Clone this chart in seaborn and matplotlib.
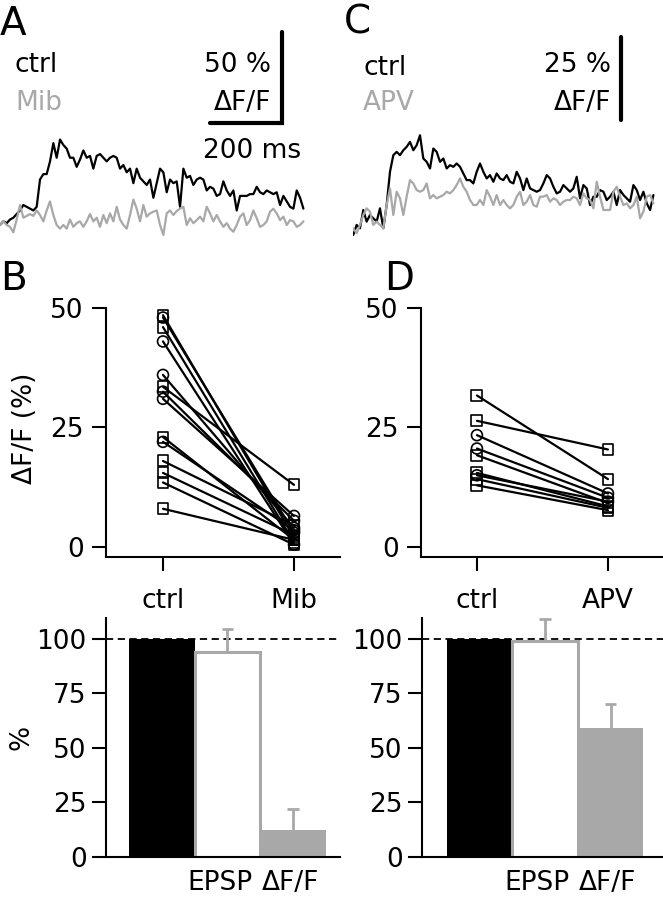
import matplotlib
matplotlib.use("Agg")
import matplotlib.pyplot as plt
import numpy as np
import pandas as pd
import seaborn as sns

W, H = 663, 899
GREY = "#a8a8a8"

# sampling interval of the imaging traces (ms)
DT = 9.26

# A: dF/F traces (%), ctrl and Mibefradil
A_CTRL = [0, 2, 1, 3, 4, 6, 8, 11, 10, 9,
          8, 10, 25, 28, 28, 35, 45, 37, 47, 44,
          42, 37, 37, 32, 36, 41, 37, 38, 31, 38,
          39, 37, 35, 37, 38, 37, 31, 33, 29, 31,
          23, 31, 26, 24, 22, 25, 15,
          23, 31, 29, 18, 25, 23, 24, 10, 31, 26,
          27, 22, 25, 26, 25, 19, 21, 20, 16, 17,
          24, 19, 16, 19, 8, 16, 16, 16, 17, 17,
          21, 18, 17, 19, 18, 17, 18, 11, 16, 13,
          10, 9, 19, 15, 9]
A_MIB = [0, 2, 0, -1, -4, 3, 11, 4, 5, 6,
         5, 8, 5.5, 2, 8, 13, 5.5, 0, -2, 0,
         -2, 3, -1, 1, 2, -1, 2, 6, 2, 4,
         -1, 5.5, 1, 6.4, 2, 10, 3, 0, -2, 5.5,
         14, 9, 2, 11, 4.6, 6.4, 7.3,
         8, 0, -5.5, 6.4, 8, 5.5, 7.7, 9, 10, 0,
         3.7, 1, 2.7, 4.6, 2, 10, 6.4, 2, 5.5, 2,
         -1, 1, -2, -3.7, 0, 4.6, 6.4, 0, 2.7, 8,
         3.7, -1, 0, 2, 7.3, 9, 6.4, 2.7, 4.6, 0,
         2.7, 2, -1, 0, 2]

# C: dF/F traces (%), ctrl and APV
C_CTRL = [-3.5, -0.5, -1.5, 4, 0.5, 2.5, 1.5, 0.5, 4.5, -1.5,
          5.5, 15.5, 20.5, 21.5, 20.5, 22, 23, 24.5, 22, 23.5,
          26.5, 19.5, 18.5, 16.5, 22.5, 21.5, 18.5, 19.5, 16.5, 17.5,
          17, 18, 17, 15, 13, 13, 12, 15.5, 18, 15.5,
          13.5, 14.5, 12.5, 15, 13.5, 13,
          14.5, 12.5, 12, 15.5, 13.5, 10, 13.5, 10.5, 10, 9.5,
          10, 12, 14.5, 13.5, 11, 9, 9.5, 11.5, 10.5, 9.5,
          10.5, 14, 7.5, 11.5, 10.5, 5.5, 8, 8, 10, 9.5,
          7, 8, 9.5, 5.5, 10, 8.5, 7.5, 6.5, 11.5, 10,
          7, 9.5, 6, 4, 8.5]
C_APV = [-1.5, -3, -0.5, 2.5, 4.5, 3.5, -0.5, 0.5, -0.5, -1.5,
         5.5, 10.5, 2.5, 9.5, 7.5, 2.5, 8, 13, 12, 10,
         9.5, 10, 12, 7.5, 8.5, 7.5, 8, 8.5, 9.5, 9,
         10, 11.5, 13.5, 11, 9.5, 7, 5.5, 5.5, 7, 5.5,
         10, 8, 5.5, 8.5, 5.5, 7,
         5.5, 4.5, 5.5, 8, 9.5, 5.5, 6.5, 8.5, 5.5, 5,
         8, 8, 8.5, 6.5, 7.5, 7, 5.5, 6.5, 7, 7,
         8, 7.5, 5.5, 9, 7.5, 7, 4.5, 12.5, 8, 4,
         4, 4, 9.5, 11, 8, 5.5, 6, 4.5, 5.5, 8,
         1.5, 3.5, 8, 8.5, 6]

# B: paired dF/F (%) per cell
B_CTRL = [48.5, 48.0, 46.0, 43.0, 36.0, 33.5, 32.5, 31.0, 23.0, 22.0, 18.0, 15.5, 13.5, 8.0]
B_MIB = [2.0, 3.0, 1.0, 0.5, 4.0, 13.0, 5.5, 6.5, 1.5, 3.5, 4.5, 2.5, 0.5, 1.5]
B_MARK = ["s", "o", "s", "o", "o", "s", "o", "o", "s", "o", "s", "s", "s", "s"]

# D: paired dF/F (%) per cell
D_CTRL = [31.7, 26.4, 23.4, 20.6, 19.2, 15.5, 15.0, 14.2, 12.9]
D_APV = [14.2, 20.4, 11.2, 10.3, 9.2, 8.5, 9.5, 8.2, 7.7]
D_MARK = ["s", "s", "o", "o", "s", "s", "o", "s", "s"]

# bottom: normalised EPSP and dF/F (% of ctrl)
BAR_LABELS = ["ctrl", "EPSP", "ΔF/F"]
B_BARS = [100, 94, 12.5]
B_ERR = [0, 10.5, 9.5]
D_BARS = [100, 99, 59]
D_ERR = [0, 10, 11]

FS = 19

sns.set_theme(style="ticks", rc={
    "axes.linewidth": 1.5, "axes.edgecolor": "black",
    "xtick.color": "black", "ytick.color": "black",
    "text.color": "black", "axes.labelcolor": "black",
    "xtick.major.width": 1.5, "ytick.major.width": 1.5,
    "font.size": FS, "axes.labelsize": FS,
    "xtick.labelsize": FS, "ytick.labelsize": FS,
})
plt.rcParams["font.family"] = ["DejaVu Sans"]

fig = plt.figure(figsize=(W / 100, H / 100), dpi=100)


def px_axes(left, top, right, bottom):
    return fig.add_axes([left / W, 1 - bottom / H, (right - left) / W, (bottom - top) / H])


def ftext(x, y, s, **kw):
    kw.setdefault("fontsize", FS)
    kw.setdefault("va", "baseline")
    fig.text(x / W, 1 - y / H, s, **kw)


def trace_panel(ax, ctrl, drug, xlim, ylim):
    t1 = np.arange(len(ctrl)) * DT
    t2 = np.arange(len(drug)) * DT
    sns.lineplot(x=t1, y=ctrl, color="black", lw=1.6, ax=ax, estimator=None, sort=False)
    sns.lineplot(x=t2, y=drug, color=GREY, lw=1.6, ax=ax, estimator=None, sort=False)
    ax.set_xlim(*xlim)
    ax.set_ylim(*ylim)
    ax.set_axis_off()


def paired_panel(ax, ctrl, drug, marks, labels, xlim):
    n = len(ctrl)
    df = pd.DataFrame({"pair": list(range(n)) * 2,
                       "x": [0] * n + [1] * n,
                       "val": list(ctrl) + list(drug),
                       "mark": list(marks) * 2})
    sns.lineplot(data=df, x="x", y="val", units="pair", estimator=None,
                 color="black", lw=1.6, ax=ax, legend=False)
    for m in ["s", "o"]:
        sub = df[df["mark"] == m]
        ax.scatter(sub["x"], sub["val"], marker=m, s=62, facecolors="none",
                   edgecolors="black", linewidths=1.2, zorder=3, clip_on=False)
    ax.set_xlim(*xlim)
    ax.set_ylim(-2.09, 51.67)
    ax.set_yticks([0, 25, 50])
    ax.set_xticks([0, 1], labels)
    ax.set_xlabel("")
    ax.set_ylabel("")
    sns.despine(ax=ax)
    ax.spines["left"].set_bounds(-2.09, 50)
    ax.tick_params(axis="y", length=10, pad=6)
    ax.tick_params(axis="x", length=10, pad=12)


def bar_panel(ax, vals, err, xlim):
    sns.barplot(x=BAR_LABELS, y=vals, hue=BAR_LABELS, palette=["black", "white", GREY],
                width=1.0, saturation=1, legend=False, errorbar=None, ax=ax)
    for p in ax.patches:
        p.set_linewidth(0)
    ax.patches[1].set_edgecolor(GREY)
    ax.patches[1].set_linewidth(2.2)
    # upward-only error bars
    xs = np.array([1, 2])
    tops = np.array(vals[1:]) + np.array(err[1:])
    ax.vlines(xs, vals[1:], tops, color=GREY, lw=2, zorder=1)
    ax.hlines(tops, xs - 0.09, xs + 0.09, color=GREY, lw=2, zorder=1)
    ax.axhline(100, color="black", lw=1.3, ls=(0, (4, 2.5)), zorder=0)
    ax.set_xlim(*xlim)
    ax.set_ylim(0, 109.6)
    ax.set_yticks([0, 25, 50, 75, 100])
    ax.set_xticks([0.88, 1.96], BAR_LABELS[1:])
    ax.set_xlabel("")
    sns.despine(ax=ax)
    ax.tick_params(axis="y", length=10, pad=4)
    ax.tick_params(axis="x", length=0, pad=9)


# A
axA = px_axes(0, 25, 310, 245)
trace_panel(axA, A_CTRL, A_MIB, (0, 861), (-11, 110))
axA.plot([583, 783, 783], [56, 56, 106], color="black", lw=3, solid_joinstyle="miter",
         clip_on=False)
ftext(0, 35, "A", fontsize=28)
ftext(15, 72, "ctrl")
ftext(15, 110, "Mib", color=GREY)
ftext(271, 72, "50 %", ha="right")
ftext(271, 110, "ΔF/F", ha="right")
ftext(252, 158, "200 ms", ha="center")

# C
axC = px_axes(353.3, 25, 663, 245)
trace_panel(axC, C_CTRL, C_APV, (0, 860), (-6.54, 59.7))
axC.plot([743.6, 743.6], [31, 56], color="black", lw=3, clip_on=False)
ftext(344, 33, "C", fontsize=28)
ftext(363, 75, "ctrl")
ftext(363, 110, "APV", color=GREY)
ftext(611, 72, "25 %", ha="right")
ftext(611, 110, "ΔF/F", ha="right")

# B / D paired
axB = px_axes(106, 300, 340, 557)
paired_panel(axB, B_CTRL, B_MIB, B_MARK, ["ctrl", "Mib"], (-0.435, 1.351))
axB.set_ylabel("ΔF/F (%)", labelpad=9)
ftext(0, 290, "B", fontsize=28)

axD = px_axes(421, 300, 663, 557)
paired_panel(axD, D_CTRL, D_APV, D_MARK, ["ctrl", "APV"], (-0.427, 1.42))
ftext(384, 290, "D", fontsize=28)

# bars
axBb = px_axes(106, 618, 340, 857)
bar_panel(axBb, B_BARS, B_ERR, (-0.855, 2.718))
axBb.set_ylabel("%", labelpad=1)

axDb = px_axes(422, 618, 663, 857)
bar_panel(axDb, D_BARS, D_ERR, (-0.878, 2.80))

fig.savefig("out.png", dpi=100)
